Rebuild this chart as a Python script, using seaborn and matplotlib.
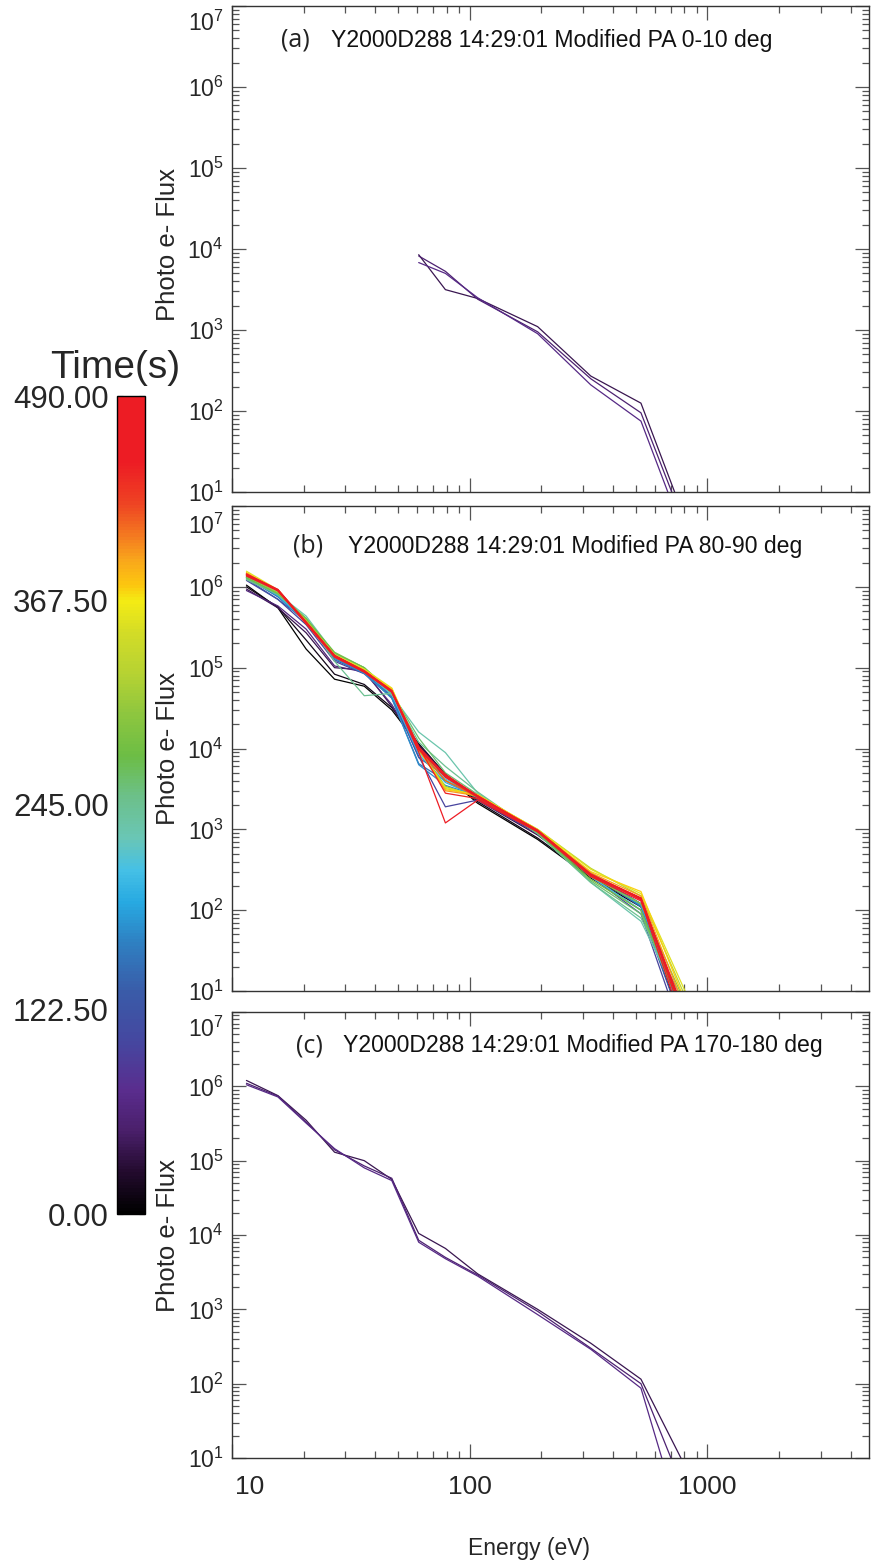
import numpy as np
import pandas as pd
import matplotlib
matplotlib.use("Agg")
import matplotlib.pyplot as plt
import seaborn as sns
from matplotlib.colors import LinearSegmentedColormap, Normalize
from matplotlib.ticker import LogLocator, FuncFormatter, NullFormatter
import matplotlib.cm as cm

sns.set_style("ticks")
plt.rcParams['font.family'] = ['Liberation Sans', 'DejaVu Sans']
plt.rcParams['mathtext.fontset'] = 'custom'
plt.rcParams['mathtext.rm'] = 'Liberation Sans'
plt.rcParams['mathtext.it'] = 'Liberation Sans:italic'

# ---------------- data ----------------
energy = [11.5, 15.6, 20.5, 27, 36, 47, 61, 79, 108, 193, 323, 525, 850]

# panel (a): PA 0-10 deg (data only from 61 eV upward)
times_a = [40, 55, 68]
flux_a = [
    [np.nan]*6 + [8.5e3, 3.15e3, 2.45e3, 1.1e3, 2.7e2, 1.25e2, 3.0],
    [np.nan]*6 + [8.2e3, 5.3e3, 2.4e3, 9.5e2, 2.5e2, 9.5e1, 2.5],
    [np.nan]*6 + [6.8e3, 5.0e3, 2.5e3, 9.0e2, 2.1e2, 7.5e1, 1.8],
]

# panel (b): PA 80-90 deg
times_b = [0, 12, 40, 60, 100, 125, 150, 170, 190, 210, 230, 245, 260, 280,
           300, 330, 355, 375, 395, 415, 430, 445, 455, 465, 475, 482, 490]
flux_b = [
    [1.05e6, 5.5e5, 1.7e5, 7.2e4, 5.9e4, 3.0e4, 1.1e4, 4.6e3, 2.1e3, 7.5e2, 2.5e2, 1.1e2, 2.0],
    [1.0e6, 5.6e5, 2.2e5, 8.3e4, 6.2e4, 3.2e4, 1.15e4, 4.8e3, 2.2e3, 7.8e2, 2.6e2, 1.15e2, 2.5],
    [9.4e5, 5.5e5, 2.7e5, 1.0e5, 9.3e4, 3.3e4, 1.1e4, 4.8e3, 2.3e3, 8.5e2, 2.7e2, 1.2e2, 3.0],
    [9.0e5, 5.8e5, 3.0e5, 1.05e5, 8.8e4, 3.5e4, 1.0e4, 4.5e3, 2.4e3, 8.8e2, 2.8e2, 1.2e2, 3.0],
    [1.2e6, 7.0e5, 3.4e5, 1.2e5, 8.4e4, 4.3e4, 8.0e3, 1.9e3, 2.3e3, 9.0e2, 2.6e2, 9.0e1, 1.5],
    [1.25e6, 7.0e5, 3.8e5, 1.25e5, 8.6e4, 4.5e4, 7.7e3, 4.6e3, 2.4e3, 9.2e2, 2.6e2, 1.0e2, 2.0],
    [1.3e6, 7.5e5, 3.7e5, 1.3e5, 8.8e4, 4.2e4, 6.5e3, 4.0e3, 2.5e3, 9.5e2, 2.8e2, 1.1e2, 2.5],
    [1.3e6, 7.7e5, 3.6e5, 1.3e5, 8.5e4, 4.2e4, 6.3e3, 3.5e3, 2.6e3, 9.4e2, 2.9e2, 1.2e2, 3.0],
    [1.35e6, 7.8e5, 3.7e5, 1.35e5, 9.0e4, 4.6e4, 8.5e3, 3.8e3, 2.5e3, 9.5e2, 2.8e2, 1.15e2, 3.0],
    [1.3e6, 8.0e5, 3.9e5, 1.4e5, 9.2e4, 4.8e4, 9.0e3, 4.2e3, 2.6e3, 9.6e2, 2.6e2, 1.0e2, 2.5],
    [1.25e6, 8.2e5, 4.35e5, 1.5e5, 1.0e5, 4.6e4, 1.6e4, 8.9e3, 2.8e3, 9.0e2, 2.2e2, 7.3e1, 4.0],
    [1.23e6, 8.0e5, 4.0e5, 1.2e5, 4.5e4, 4.8e4, 1.2e4, 6.0e3, 2.9e3, 8.8e2, 2.2e2, 8.0e1, 5.0],
    [1.28e6, 8.2e5, 4.1e5, 1.5e5, 1.0e5, 4.9e4, 1.35e4, 5.0e3, 2.7e3, 9.0e2, 2.3e2, 9.0e1, 4.0],
    [1.3e6, 8.3e5, 4.0e5, 1.55e5, 1.0e5, 5.0e4, 1.0e4, 4.0e3, 2.6e3, 9.2e2, 2.4e2, 1.0e2, 3.0],
    [1.35e6, 8.5e5, 3.9e5, 1.45e5, 9.5e4, 5.2e4, 1.0e4, 3.4e3, 2.5e3, 9.5e2, 2.6e2, 1.2e2, 5.0],
    [1.45e6, 8.8e5, 3.8e5, 1.4e5, 9.4e4, 5.4e4, 9.5e3, 3.2e3, 2.6e3, 1.0e3, 3.3e2, 1.5e2, 6.0],
    [1.56e6, 9.2e5, 3.7e5, 1.45e5, 9.6e4, 5.6e4, 9.8e3, 3.3e3, 2.6e3, 1.0e3, 3.2e2, 1.6e2, 7.0],
    [1.5e6, 9.0e5, 3.6e5, 1.4e5, 9.2e4, 5.5e4, 1.0e4, 3.1e3, 2.7e3, 9.8e2, 3.0e2, 1.7e2, 5.0],
    [1.48e6, 9.0e5, 3.6e5, 1.4e5, 9.0e4, 5.3e4, 1.0e4, 3.0e3, 2.6e3, 9.6e2, 2.9e2, 1.5e2, 4.0],
    [1.45e6, 9.0e5, 3.5e5, 1.35e5, 9.0e4, 5.2e4, 9.6e3, 4.0e3, 2.5e3, 9.6e2, 2.8e2, 1.4e2, 3.0],
    [1.42e6, 9.1e5, 3.6e5, 1.4e5, 8.8e4, 5.0e4, 1.0e4, 4.5e3, 2.5e3, 9.5e2, 2.7e2, 1.35e2, 3.0],
    [1.4e6, 9.0e5, 3.6e5, 1.4e5, 9.0e4, 5.1e4, 1.05e4, 2.8e3, 2.4e3, 9.4e2, 2.7e2, 1.4e2, 3.0],
    [1.38e6, 8.9e5, 3.5e5, 1.35e5, 8.8e4, 5.0e4, 9.0e3, 1.2e3, 2.3e3, 9.3e2, 2.6e2, 1.3e2, 2.0],
    [1.4e6, 9.2e5, 3.7e5, 1.42e5, 9.0e4, 5.1e4, 1.0e4, 4.6e3, 2.6e3, 9.6e2, 2.7e2, 1.4e2, 3.0],
    [1.36e6, 9.0e5, 3.6e5, 1.38e5, 8.9e4, 5.0e4, 1.0e4, 4.4e3, 2.5e3, 9.7e2, 2.8e2, 1.35e2, 3.5],
    [1.44e6, 9.3e5, 3.65e5, 1.41e5, 9.2e4, 5.15e4, 9.8e3, 4.8e3, 2.55e3, 9.8e2, 2.75e2, 1.42e2, 3.0],
    [1.42e6, 9.1e5, 3.6e5, 1.4e5, 9.1e4, 5.2e4, 1.05e4, 4.7e3, 2.6e3, 9.5e2, 2.7e2, 1.38e2, 2.5],
]

# panel (c): PA 170-180 deg
times_c = [40, 55, 68]
flux_c = [
    [1.2e6, 7.5e5, 3.5e5, 1.3e5, 1.0e5, 5.6e4, 1.05e4, 6.6e3, 3.0e3, 1.0e3, 3.5e2, 1.15e2, 5.5],
    [1.1e6, 7.4e5, 3.3e5, 1.4e5, 8.5e4, 5.8e4, 8.5e3, 5.0e3, 2.9e3, 9.4e2, 3.0e2, 1.0e2, 2.2],
    [1.05e6, 7.2e5, 3.2e5, 1.45e5, 8.0e4, 5.4e4, 8.0e3, 4.8e3, 2.8e3, 8.5e2, 2.9e2, 8.7e1, 0.5],
]

titles = ["Y2000D288 14:29:01 Modified PA 0-10 deg",
          "Y2000D288 14:29:01 Modified PA 80-90 deg",
          "Y2000D288 14:29:01 Modified PA 170-180 deg"]
panel_tags = ["(a)", "(b)", "(c)"]
cbar_ticks = [0.0, 122.5, 245.0, 367.5, 490.0]

# ---------------- colormap (IDL-like rainbow with black) ----------------
cmap = LinearSegmentedColormap.from_list("idl_rainbow", [
    (0.00, "#000000"), (0.05, "#230b2e"), (0.10, "#4a1f6a"), (0.15, "#5a2d8e"),
    (0.21, "#4547a0"), (0.27, "#3a5ba8"), (0.33, "#2f7fc1"), (0.38, "#27a9e1"),
    (0.42, "#45c0e6"), (0.46, "#6ac6b5"), (0.51, "#6cc08a"), (0.56, "#6cbd45"),
    (0.61, "#8cc63f"), (0.66, "#b5d233"), (0.71, "#d2dc27"), (0.75, "#f4eb14"),
    (0.77, "#fcc70f"), (0.80, "#f9a71b"), (0.83, "#f47a20"), (0.87, "#ee4323"),
    (0.92, "#ed1c24"), (1.00, "#ed1c24")], N=256)
norm = Normalize(0, 490)


def to_long(times, fluxes):
    rows = []
    for t, fl in zip(times, fluxes):
        for e, f in zip(energy, fl):
            if not np.isnan(f):
                rows.append((t, e, f))
    return pd.DataFrame(rows, columns=["time", "energy", "flux"])


W, H = 871, 1566
fig = plt.figure(figsize=(W / 100, H / 100), dpi=100)


def frac_rect(x0, y_top, x1, y_bot):
    return [x0 / W, 1 - y_bot / H, (x1 - x0) / W, (y_bot - y_top) / H]


rects = [frac_rect(232, 6, 869, 492), frac_rect(232, 506, 869, 991), frac_rect(232, 1012, 869, 1458)]
datasets = [(times_a, flux_a), (times_b, flux_b), (times_c, flux_c)]
# (tag x, title x, y) in axes fraction
title_pos = [(0.077, 0.155, 0.93), (0.096, 0.182, 0.917), (0.10, 0.174, 0.924)]
top_label_y = [0.99, 0.985, 0.99]
ylabel_y = [0.51, 0.5, 0.5]


def ylab(v, pos):
    # only the decades 10^1 .. 10^6 are labelled by the axis; 10^7 is placed by hand
    if v <= 0:
        return ""
    p = int(round(np.log10(v)))
    if abs(np.log10(v) - p) > 1e-6 or p >= 7 or p < 1:
        return ""
    return r"$\mathdefault{10^{%d}}$" % p


def xlab(v, pos):
    if v < 50 or v > 5000:
        return ""
    return "%d" % round(v)


for i, (rect, (tm, fl)) in enumerate(zip(rects, datasets)):
    ax = fig.add_axes(rect)
    ax.set_xscale("log")
    ax.set_yscale("log")
    df = to_long(tm, fl)
    sns.lineplot(data=df, x="energy", y="flux", hue="time", units="time",
                 estimator=None, palette=cmap, hue_norm=norm, legend=False,
                 sort=False, lw=0.9, ax=ax)
    ax.set_xlim(10, 4780)
    ax.set_ylim(10, 1e7)
    ax.yaxis.set_major_locator(LogLocator(base=10, numticks=20))
    ax.yaxis.set_minor_locator(LogLocator(base=10, subs=np.arange(2, 10), numticks=20))
    ax.yaxis.set_major_formatter(FuncFormatter(ylab))
    ax.yaxis.set_minor_formatter(NullFormatter())
    ax.xaxis.set_major_locator(LogLocator(base=10, numticks=20))
    ax.xaxis.set_minor_locator(LogLocator(base=10, subs=np.arange(2, 10), numticks=20))
    ax.xaxis.set_minor_formatter(NullFormatter())
    if i < 2:
        ax.xaxis.set_major_formatter(NullFormatter())
        ax.set_xlabel("")
    else:
        ax.xaxis.set_major_formatter(FuncFormatter(xlab))
        # first label ("10") sits just right of the axis corner in the original
        ax.annotate("10", xy=(10, 0), xycoords=("data", "axes fraction"),
                    xytext=(2, -12), textcoords="offset points",
                    ha="left", va="top", fontsize=19)
        ax.set_xlabel("Energy (eV)", fontsize=16.5)
        ax.xaxis.set_label_coords(0.466, -0.178)
    ax.tick_params(which="both", direction="in", top=True, right=True,
                   color="#555555", width=0.9)
    ax.tick_params(which="major", length=10)
    ax.tick_params(axis="y", which="major", labelsize=16.5, pad=6)
    ax.tick_params(which="minor", length=5)
    ax.tick_params(axis="x", which="major", pad=12, labelsize=19)
    for s in ax.spines.values():
        s.set_linewidth(1.0)
        s.set_color("#333333")
    ax.set_ylabel("Photo e- Flux", fontsize=18.5)
    ax.yaxis.set_label_coords(-0.082, ylabel_y[i])
    # 10^7 label placed just below its tick, as in the original layout
    ax.text(-0.0125, top_label_y[i], r"$\mathdefault{10^{7}}$", transform=ax.transAxes,
            ha="right", va="top", fontsize=16.5)
    tx, ty, yy = title_pos[i]
    ax.text(tx, yy, panel_tags[i], transform=ax.transAxes, ha="left", va="center",
            fontsize=18, family=["Open Sans", "DejaVu Sans"], color="#222222")
    ax.text(ty, yy, titles[i], transform=ax.transAxes, ha="left", va="center",
            fontsize=16.6, color="#111111")

# ---------------- colorbar ----------------
cax = fig.add_axes(frac_rect(117, 396, 145, 1214))
sm = cm.ScalarMappable(norm=norm, cmap=cmap)
cb = fig.colorbar(sm, cax=cax, orientation="vertical")
cb.set_ticks(cbar_ticks)
cb.set_ticklabels(["%.2f" % v for v in cbar_ticks])
cax.yaxis.set_ticks_position("both")
cax.yaxis.set_label_position("left")
cax.tick_params(axis="y", which="major", direction="in", length=4, labelsize=22.5,
                labelleft=True, labelright=False, pad=6, color="black")
cax.minorticks_off()
cb.outline.set_linewidth(1.0)
cb.outline.set_edgecolor("black")
cax.text(2.25, 1.012, "Time(s)", transform=cax.transAxes, ha="right", va="bottom",
         fontsize=28)

fig.savefig("out.png", dpi=100)
